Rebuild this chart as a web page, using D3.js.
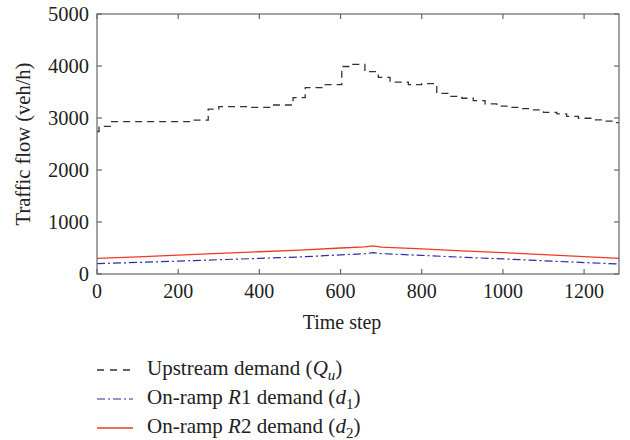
<!DOCTYPE html>
<meta charset="utf-8">
<style>
body { margin: 0; background: #fff; }
text { font-family: "Liberation Serif", "Times New Roman", serif; fill: #222; }
.frame { fill: none; stroke: #666; stroke-width: 1.2px; }
.tick { stroke: #666; stroke-width: 1.2px; }
</style>
<body>
<script src="https://d3js.org/d3.v7.min.js"></script>
<script>
var width = 630,
    height = 440;

// upstream demand Q_u (step function)
var upT = [0, 5, 36, 230, 274, 300, 380, 430, 483, 513, 560, 603, 630, 660, 693, 722, 767, 800, 837, 870, 899, 927, 956, 985, 1014, 1042, 1071, 1100, 1133, 1157, 1186, 1219, 1248, 1272, 1286];
var upV = [2740, 2840, 2930, 2960, 3170, 3220, 3205, 3250, 3390, 3585, 3640, 3990, 4030, 3890, 3780, 3690, 3640, 3660, 3475, 3415, 3380, 3335, 3270, 3230, 3205, 3180, 3155, 3110, 3080, 3030, 2995, 2965, 2940, 2910, 2910];

// on-ramp demands
var rampT = [0, 100, 200, 300, 400, 500, 600, 660, 680, 700, 800, 900, 1000, 1100, 1200, 1286];
var d1V = [200, 222, 248, 275, 300, 328, 368, 390, 410, 392, 358, 322, 290, 255, 220, 192];
var d2V = [300, 330, 362, 398, 428, 460, 500, 520, 540, 518, 482, 446, 412, 372, 336, 302];

var xTicks = [0, 200, 400, 600, 800, 1000, 1200];
var yTicks = [0, 1000, 2000, 3000, 4000, 5000];

var legendLabels = [
  [["Upstream demand (", 0], ["Q", 1], ["u", 2], [")", 0]],
  [["On-ramp ", 0], ["R", 1], ["1 demand (", 0], ["d", 1], ["1", 3], [")", 0]],
  [["On-ramp ", 0], ["R", 1], ["2 demand (", 0], ["d", 1], ["2", 3], [")", 0]]
];

var pLeft = 97, pRight = 619, pTop = 14, pBottom = 274;

var x = d3.scaleLinear().domain([0, 1286]).range([pLeft, pRight]);
var y = d3.scaleLinear().domain([0, 5000]).range([pBottom, pTop]);

var svg = d3.select("body").append("svg")
    .attr("width", width)
    .attr("height", height);

function series(ts, vs) {
  return ts.map(function(t, i) { return [t, vs[i]]; });
}

var stepLine = d3.line()
    .x(function(d) { return x(d[0]); })
    .y(function(d) { return y(d[1]); })
    .curve(d3.curveStepAfter);

var line = d3.line()
    .x(function(d) { return x(d[0]); })
    .y(function(d) { return y(d[1]); });

var styles = [
  { color: "#333", dash: "7,5", width: 1.3 },
  { color: "#2e2e9e", dash: "8,3,2,3", width: 1.2 },
  { color: "#ee3a26", dash: null, width: 1.3 }
];

svg.append("path")
    .attr("d", stepLine(series(upT, upV)))
    .attr("fill", "none")
    .attr("stroke", styles[0].color)
    .attr("stroke-width", styles[0].width)
    .attr("stroke-dasharray", styles[0].dash);

svg.append("path")
    .attr("d", line(series(rampT, d1V)))
    .attr("fill", "none")
    .attr("stroke", styles[1].color)
    .attr("stroke-width", styles[1].width)
    .attr("stroke-dasharray", styles[1].dash);

svg.append("path")
    .attr("d", line(series(rampT, d2V)))
    .attr("fill", "none")
    .attr("stroke", styles[2].color)
    .attr("stroke-width", styles[2].width);

// frame and inward ticks
svg.append("rect").attr("class", "frame")
    .attr("x", pLeft).attr("y", pTop)
    .attr("width", pRight - pLeft).attr("height", pBottom - pTop);

var tl = 5;
xTicks.forEach(function(t) {
  svg.append("line").attr("class", "tick")
      .attr("x1", x(t)).attr("x2", x(t)).attr("y1", pBottom).attr("y2", pBottom - tl);
  svg.append("line").attr("class", "tick")
      .attr("x1", x(t)).attr("x2", x(t)).attr("y1", pTop).attr("y2", pTop + tl);
  svg.append("text")
      .attr("x", x(t)).attr("y", 298)
      .attr("text-anchor", "middle")
      .attr("font-size", 20)
      .text(t);
});

yTicks.forEach(function(v) {
  svg.append("line").attr("class", "tick")
      .attr("x1", pLeft).attr("x2", pLeft + tl).attr("y1", y(v)).attr("y2", y(v));
  svg.append("line").attr("class", "tick")
      .attr("x1", pRight).attr("x2", pRight - tl).attr("y1", y(v)).attr("y2", y(v));
  svg.append("text")
      .attr("x", 89).attr("y", y(v) + 7)
      .attr("text-anchor", "end")
      .attr("font-size", 20.5)
      .text(v);
});

svg.append("text")
    .attr("x", 342).attr("y", 329)
    .attr("text-anchor", "middle")
    .attr("font-size", 20)
    .text("Time step");

svg.append("text")
    .attr("transform", "translate(30," + ((pTop + pBottom) / 2) + ") rotate(-90)")
    .attr("text-anchor", "middle")
    .attr("font-size", 20.5)
    .text("Traffic flow (veh/h)");

// legend
legendLabels.forEach(function(parts, i) {
  var by = 375 + i * 29;
  var st = styles[i];
  svg.append("line")
      .attr("x1", 97).attr("x2", 133)
      .attr("y1", by - 5).attr("y2", by - 5)
      .attr("stroke", st.color)
      .attr("stroke-width", st.width)
      .attr("stroke-dasharray", i === 0 ? "7,6" : st.dash);
  var txt = svg.append("text")
      .attr("x", 147).attr("y", by)
      .attr("font-size", 21);
  var shifted = false;
  parts.forEach(function(p) {
    var ts = txt.append("tspan").text(p[0]);
    if (p[1] === 1 || p[1] === 2) ts.attr("font-style", "italic");
    if (p[1] >= 2) {
      ts.attr("font-size", 15).attr("dy", 5);
      shifted = true;
    } else if (shifted) {
      ts.attr("dy", -5);
      shifted = false;
    }
  });
});
</script>
</body>
</html>
